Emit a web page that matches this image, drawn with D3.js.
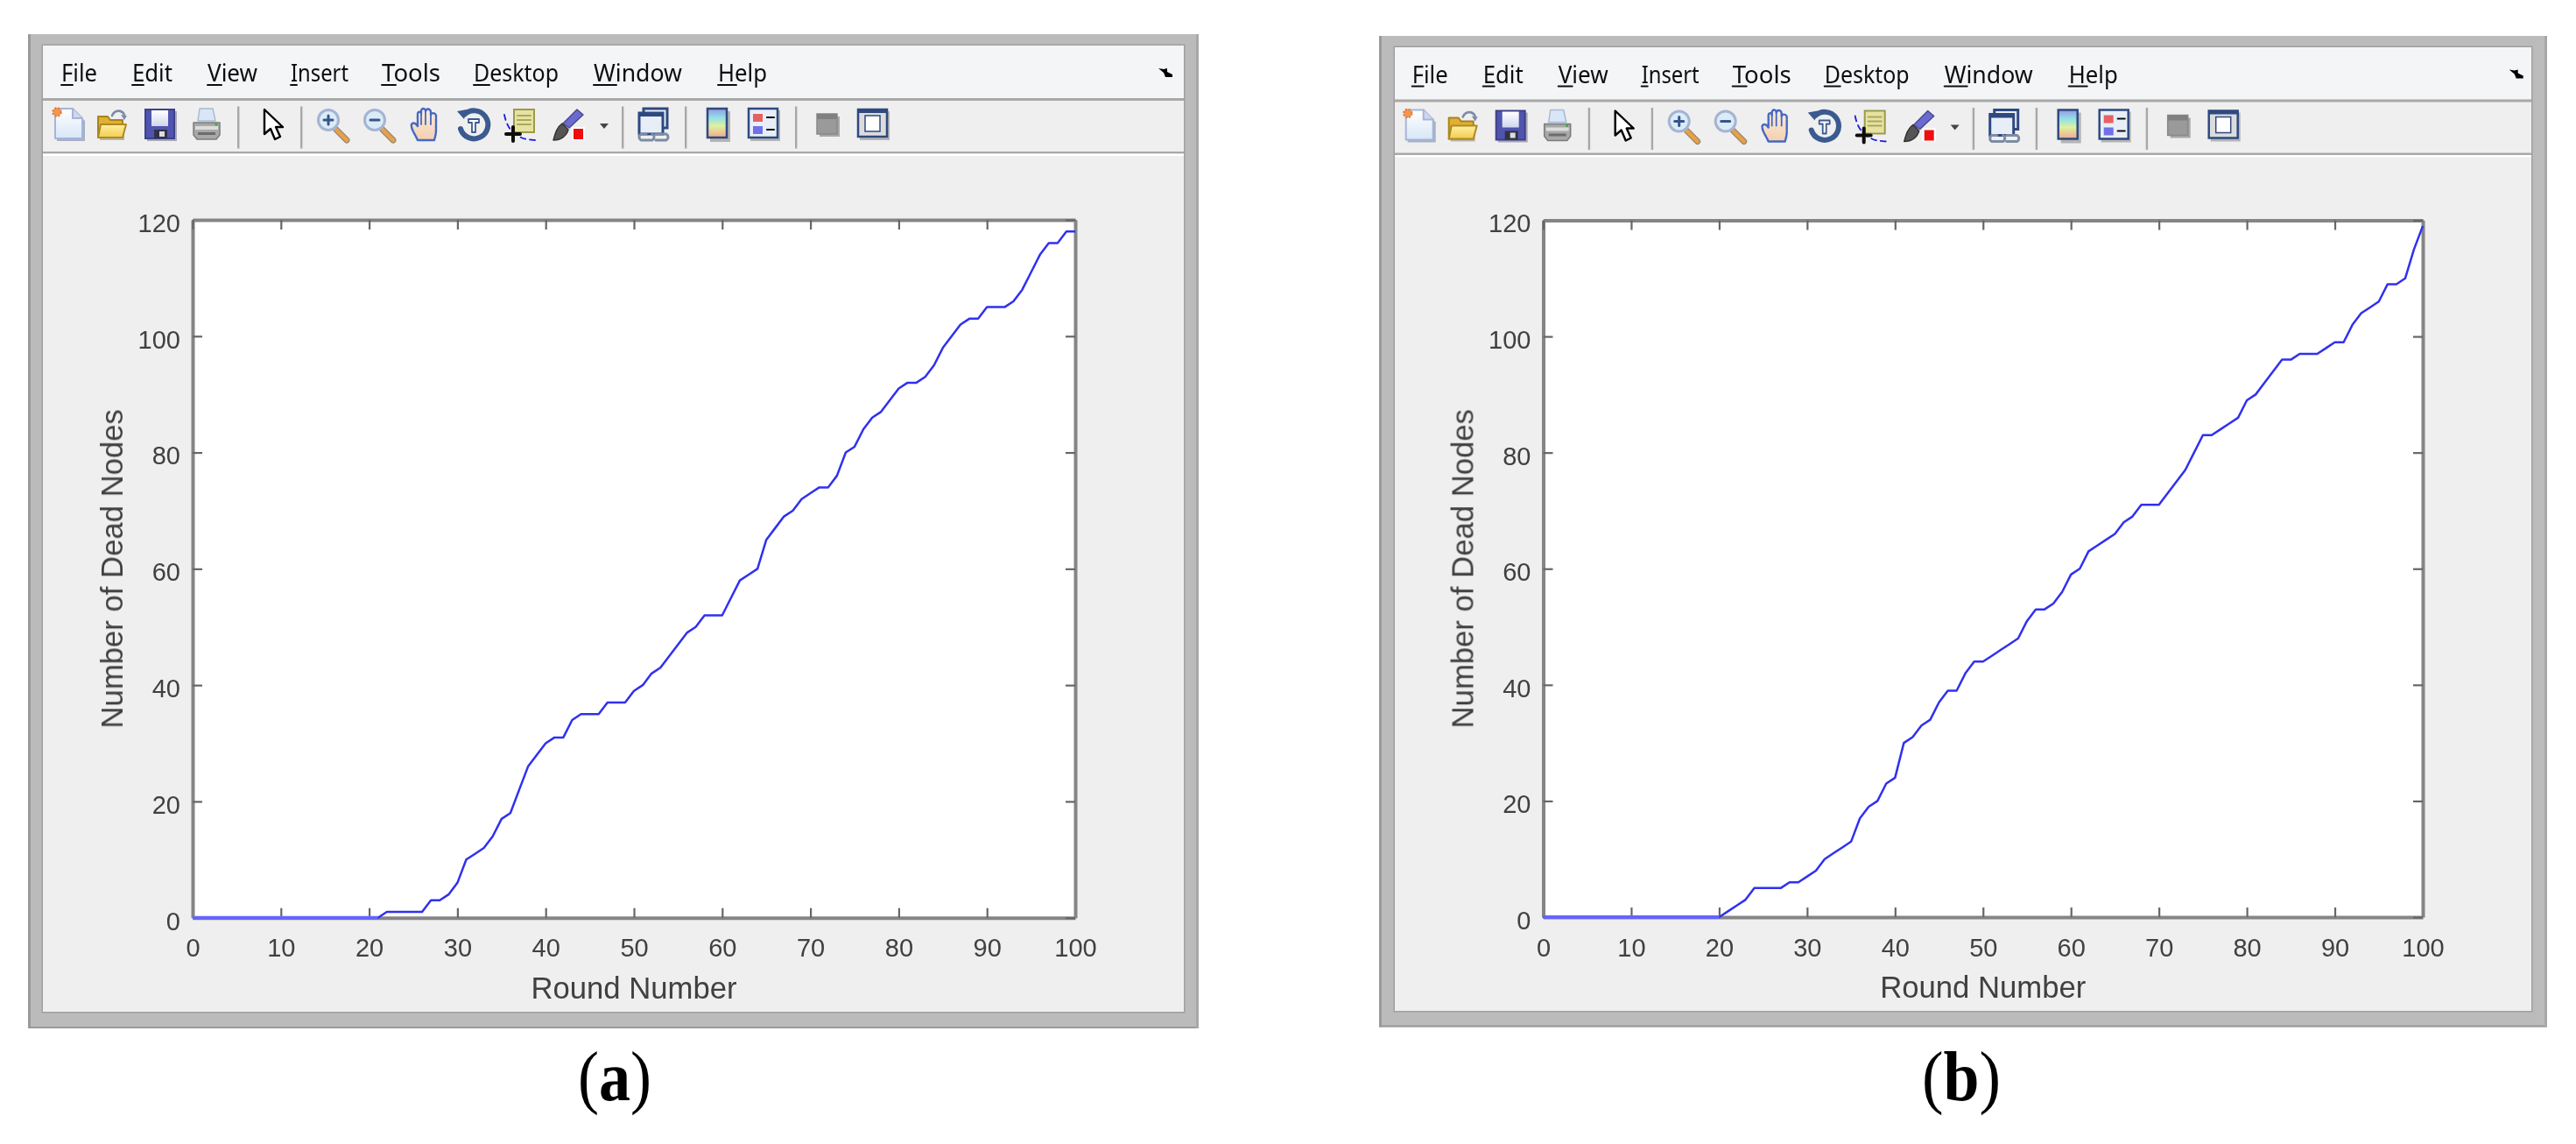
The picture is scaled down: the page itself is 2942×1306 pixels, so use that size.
<!DOCTYPE html>
<html><head><meta charset="utf-8">
<style>html,body{margin:0;padding:0;background:#fff}svg{display:block}</style>
<script src="https://cdn.jsdelivr.net/npm/d3@7"></script></head>
<body><div id="chart"></div>
<script>
const rounds = d3.range(0, 101);
const deadA = [0,0,0,0,0,0,0,0,0,0,0,0,0,0,0,0,0,0,0,0,0,0,1,1,1,1,1,3,3,4,6,10,11,12,14,17,18,22,26,28,30,31,31,34,35,35,35,37,37,37,39,40,42,43,45,47,49,50,52,52,52,55,58,59,60,65,67,69,70,72,73,74,74,76,80,81,84,86,87,89,91,92,92,93,95,98,100,102,103,103,105,105,105,106,108,111,114,116,116,118,118];
const deadB = [0,0,0,0,0,0,0,0,0,0,0,0,0,0,0,0,0,0,0,0,0,1,2,3,5,5,5,5,6,6,7,8,10,11,12,13,17,19,20,23,24,30,31,33,34,37,39,39,42,44,44,45,46,47,48,51,53,53,54,56,59,60,63,64,65,66,68,69,71,71,71,73,75,77,80,83,83,84,85,86,89,90,92,94,96,96,97,97,97,98,99,99,102,104,105,106,109,109,110,115,119];
const xTicks = [0,10,20,30,40,50,60,70,80,90,100];
const yTicks = [0,20,40,60,80,100,120];
const menuItems = ["File","Edit","View","Insert","Tools","Desktop","Window","Help"];
const menuX = [70,151,237,332,436,541,678,820];
const menuW = [41,46,57,66,67,97,101,56];
const menuU = [13,13,16,7,16,18,26,21];
const xTitle = "Round Number";
const yTitle = "Number of Dead Nodes";

const panels = [
  {id:"a", values:deadA, dx:0,      dy:0,   outer:[32,39,1369,1174],   inner:[49,52,1352,1155],   plot:[220,251,1228,1047.7],  cap:702},
  {id:"b", values:deadB, dx:1542.7, dy:1.5, outer:[1575,41,2909,1172.5], inner:[1593,54,2891,1154], plot:[1762.5,251.5,2767,1047], cap:2240}
];

const svg = d3.select("#chart").append("svg").attr("width",2942).attr("height",1306).attr("viewBox","0 0 2942 1306");
svg.append("rect").attr("width",2942).attr("height",1306).attr("fill","#fff");
const defs=svg.append("defs");
defs.append("filter").attr("id","soft").attr("x","-2%").attr("y","-2%").attr("width","104%").attr("height","104%")
  .append("feGaussianBlur").attr("stdDeviation",0.6);
const grad=(id,stops)=>{const gr=defs.append("linearGradient").attr("id",id).attr("x1",0).attr("x2",0).attr("y1",0).attr("y2",1);
  stops.forEach(s=>gr.append("stop").attr("offset",s[0]).attr("stop-color",s[1]));};
grad("cb",[[0,"#9a96e0"],[0.3,"#8ee0e8"],[0.6,"#e0f0a0"],[1,"#f0a890"]]);
grad("page",[[0,"#ffffff"],[1,"#d8e6f6"]]);
grad("fold",[[0,"#fff0a0"],[1,"#f2cc50"]]);
grad("disk",[[0,"#ffffff"],[1,"#cfd6ee"]]);
grad("hand",[[0,"#fbeee0"],[1,"#f4cfae"]]);

const rect=(g,x,y,w,h,f,s,sw)=>g.append("rect").attr("x",x).attr("y",y).attr("width",w).attr("height",h).attr("fill",f||"none").attr("stroke",s||"none").attr("stroke-width",sw||0);
const path=(g,d,f,s,sw)=>g.append("path").attr("d",d).attr("fill",f||"none").attr("stroke",s||"none").attr("stroke-width",sw||0).attr("stroke-linejoin","round").attr("stroke-linecap","round");
const circ=(g,x,y,r,f,s,sw)=>g.append("circle").attr("cx",x).attr("cy",y).attr("r",r).attr("fill",f||"none").attr("stroke",s||"none").attr("stroke-width",sw||0);

function magnifier(g,x,sign){
  const i=g.append("g").attr("transform",`translate(${x},0)`);
  path(i,"M22 24 L34 36","none","#9a8a70",7);
  path(i,"M22 24 L34 36","none","#e8a048",4.5);
  circ(i,13,13,11.5,"#dcecf6","#a4b4d4",3);
  path(i,"M8 13H18","none","#34558c",3);
  if(sign) path(i,"M13 8V18","none","#34558c",3);
}
function icons(g){
  let i=g.append("g").attr("transform","translate(61,123)");
  path(i,"M4 3H24L36 15V38H4Z","#a8b0c4");
  path(i,"M2 1H22L33 12V35H2Z","url(#page)","#a4b4dc",2);
  path(i,"M22 1V12H33","#cfd8ec","#a4b4dc",2);
  circ(i,4,5,4.5,"#f09a50","#e87a3a",2.5).attr("stroke-dasharray","2 1.6");
  i=g.append("g").attr("transform","translate(111,125)");
  path(i,"M3 12H14L17 16H31V35H3Z","#b8b8b0");
  path(i,"M1 8H12L15 12H29V32H1Z","#e0b030","#a8841c",2);
  path(i,"M1 32L4 17H33L29 32Z","url(#fold)","#b08a20",2);
  path(i,"M17 7C20 0 28 0 31 6","none","#7c8ca8",2.6);
  path(i,"M27 6L34 7L31 12Z","#7c8ca8");
  i=g.append("g").attr("transform","translate(166,125)");
  rect(i,2,2,34,34,"#a8a8b4");
  rect(i,0,0,33,33,"#5054ae","#3c4088",2);
  rect(i,7,1,19,18,"url(#disk)");
  rect(i,10,23,15,10,"#333344");
  rect(i,16,25,6,6,"#ddd");
  i=g.append("g").attr("transform","translate(220,123)");
  path(i,"M8 1H23L26 15H6Z","#d8e6f8","#a8bcd0",1.5);
  path(i,"M1 17H31V31L27 36H5L1 31Z","#a8a8a8","#7c7c7c",1.5);
  rect(i,3,21,26,4,"#dcdcdc");
  rect(i,6,28,20,3,"#6c6c6c");
  circ(i,27,19,1.6,"#38b038");
  i=g.append("g").attr("transform","translate(301,124)");
  path(i,"M1 1V29L8 23L13 35L19 32L14 21H22Z","#fff","#000",2.4);
  i=g.append("g").attr("transform","translate(0,124)");
  magnifier(i,362,true); magnifier(i,415,false);
  i=g.append("g").attr("transform","translate(468,123)");
  path(i,"M9 37C6 30 1 24 2 19C4 16 7 18 9 21V7C9 4 13 4 13 7V4C13 0 18 0 18 4C19 0 24 1 24 5V8C25 5 30 6 30 9V25C30 30 29 33 28 37Z","url(#hand)","#4468c4",2.4).attr("stroke-dasharray","5 1");
  path(i,"M13 7V19M18 4V19M24 5V19","none","#4468c4",1.8);
  i=g.append("g").attr("transform","translate(522,124)");
  path(i,"M8 7A16 16 0 1 1 4 23","none","#3a5a90",6);
  path(i,"M0 3L11 1L8 12Z","#3a5a90");
  path(i,"M13 12H25V16H21V27H17V16H13Z","#fff","#3a5a90",1.8);
  i=g.append("g").attr("transform","translate(575,123)");
  rect(i,12,2,23,26,"#e8e2a0","#9a9a50",2);
  path(i,"M16 9H31M16 14H31M16 19H31","none","#a8a860",2);
  path(i,"M1 8C3 18 7 26 15 31S25 36 36 37","none","#1a1ae0",1.8).attr("stroke-dasharray","6 5");
  path(i,"M11 22V38M3 30H19","none","#111",4);
  i=g.append("g").attr("transform","translate(631,123)");
  path(i,"M28 2L35 8L19 23L12 18Z","#6a6ad0","#4a4a90",1.5);
  path(i,"M11 18L18 25C16 32 10 37 1 37C3 30 5 22 11 18Z","#555","#333",1.5);
  rect(i,22,22,15,15,"#fff"); rect(i,24,24,11,12,"#f01010");
  path(g,"M685 141H695L690 147Z","#444");
  i=g.append("g").attr("transform","translate(729,123)");
  rect(i,6,1,27,22,"#e8eef8","#2f4a80",3); rect(i,1,6,27,24,"#e8eef8","#2f4a80",3);
  rect(i,1,6,27,4,"#2f4a80");
  path(i,"M9 30H3A4 4 0 0 0 3 37H16A4 4 0 0 0 16 30M20 30H32A4 4 0 0 1 32 37H20","none","#7c8ca4",3);
  i=g.append("g").attr("transform","translate(808,124)");
  rect(i,3,3,23,35,"#b4b4b4");
  rect(i,0,0,22,33,"url(#cb)","#2f4a80",2.5);
  i=g.append("g").attr("transform","translate(855,124)");
  rect(i,2,2,34,35,"#b4b4b4");
  rect(i,0,0,33,33,"#e8eef8","#2f4a80",2.5);
  rect(i,5,6,11,9,"#e86060"); rect(i,5,20,11,9,"#7070e8");
  path(i,"M21 10H29M21 24H29","none","#111",2.2);
  i=g.append("g").attr("transform","translate(933,130)");
  rect(i,3,3,23,23,"#a8a8a8"); rect(i,0,0,23,23,"#9a9a9a","#888",1.5); rect(i,0,0,23,6,"#808080");
  i=g.append("g").attr("transform","translate(980,125)");
  rect(i,2,2,34,33,"#b4b4b4");
  rect(i,0,0,33,31,"#dcdcdc","#2f4a80",2.5);
  rect(i,0,0,33,4,"#2f4a80"); rect(i,8,7,17,18,"#fff","#2f4a80",1.5);
}

panels.forEach(p=>{
  const [ol,ot,or,ob]=p.outer, [il,it,ir,ib]=p.inner, [pl,pt,pr,pb]=p.plot;
  const g=svg.append("g").attr("class","panel-"+p.id);
  rect(g,ol,ot,or-ol,ob-ot,"#bbbbbb");
  rect(g,ol,ot,3,ob-ot,"#9a9a9a"); rect(g,ol,ob-2,or-ol,2,"#9a9a9a"); rect(g,or-3,ot,3,ob-ot,"#a8a8a8");
  rect(g,il-1.5,it-1.5,ir-il+3,ib-it+3,"#a0a0a0");
  rect(g,il,it,ir-il,ib-it,"#efefef");
  rect(g,il,it,ir-il,112+p.dy-it,"#f4f5f7");
  rect(g,il,112+p.dy,ir-il,3,"#a8a8a8");
  rect(g,il,173+p.dy,ir-il,2.5,"#a8a8a8");
  rect(g,il,175.5+p.dy,ir-il,2.5,"#ffffff");
  rect(g,pl,pt,pr-pl,pb-pt,"#fff");
  const soft=g.append("g").attr("filter","url(#soft)");
  const chrome=soft.append("g").attr("transform",`translate(${p.dx},${p.dy})`);
  menuItems.forEach((m,k)=>{
    chrome.append("text").attr("x",menuX[k]).attr("y",93.3).attr("font-family","'Noto Sans',sans-serif").attr("font-size",28)
      .attr("textLength",menuW[k]).attr("lengthAdjust","spacingAndGlyphs").attr("fill","#111").text(m);
    path(chrome,`M${menuX[k]} 97H${menuX[k]+menuU[k]}`,"none","#111",2);
  });
  path(chrome,"M1323 78L1329 79L1333 78V82L1339 85V88H1331L1329 83Z","#000");
  [272,344,711,783,909].forEach(x=>rect(chrome,x-1,121.5,2.4,48,"#a8a8a8"));
  icons(chrome);

  const x=d3.scaleLinear().domain([0,100]).range([pl,pr]);
  const y=d3.scaleLinear().domain([0,120]).range([pb,pt]);
  const col="#858585", tickCol="#666666", txt="#404040", fs=29;
  const ax=(gen,tr)=>{
    const a=soft.append("g").attr("transform",tr).call(gen);
    a.selectAll("path.domain").attr("stroke",col).attr("stroke-width",4);
    a.selectAll("line").attr("stroke",tickCol).attr("stroke-width",2.2);
    a.selectAll("text").attr("fill",txt).attr("font-family","'Liberation Sans',sans-serif").attr("font-size",fs);
    return a;
  };
  ax(d3.axisBottom(x).tickValues(xTicks).tickSize(-11).tickSizeOuter(0).tickPadding(24),`translate(0,${pb})`);
  ax(d3.axisLeft(y).tickValues(yTicks).tickSize(-11).tickSizeOuter(0).tickPadding(14),`translate(${pl},0)`).selectAll("text").attr("dy","0.46em");
  ax(d3.axisTop(x).tickValues(xTicks).tickSize(-11).tickSizeOuter(0).tickFormat(""),`translate(0,${pt})`);
  ax(d3.axisRight(y).tickValues(yTicks).tickSize(-11).tickSizeOuter(0).tickFormat(""),`translate(${pr},0)`);
  soft.append("text").attr("x",(pl+pr)/2).attr("y",pb+92).attr("text-anchor","middle").attr("font-family","'Liberation Sans',sans-serif").attr("font-size",34.7).attr("fill",txt).text(xTitle);
  soft.append("text").attr("transform",`translate(${pl-80},${(pt+pb)/2}) rotate(-90)`).attr("text-anchor","middle").attr("font-family","'Liberation Sans',sans-serif").attr("font-size",34.7).attr("fill",txt).text(yTitle);

  const line=d3.line().x((d,k)=>x(rounds[k])).y(d=>y(d));
  g.append("path").datum(p.values).attr("d",line).attr("fill","none").attr("stroke","#3030f0").attr("stroke-width",2.5).attr("stroke-linejoin","round");
  const lastZero=p.values.lastIndexOf(0);
  g.append("path").datum(p.values.slice(0,lastZero+1)).attr("d",line).attr("fill","none").attr("stroke","#6464ff").attr("stroke-width",4);

  const c=g.append("text").attr("x",p.cap).attr("y",1256).attr("text-anchor","middle").attr("font-family","'Liberation Serif',serif").attr("font-size",80).attr("fill","#000")
    .attr("textLength",p.id==="a"?84:90).attr("lengthAdjust","spacingAndGlyphs");
  c.append("tspan").text("(");
  c.append("tspan").attr("font-weight","bold").text(p.id);
  c.append("tspan").text(")");
});
</script></body></html>
